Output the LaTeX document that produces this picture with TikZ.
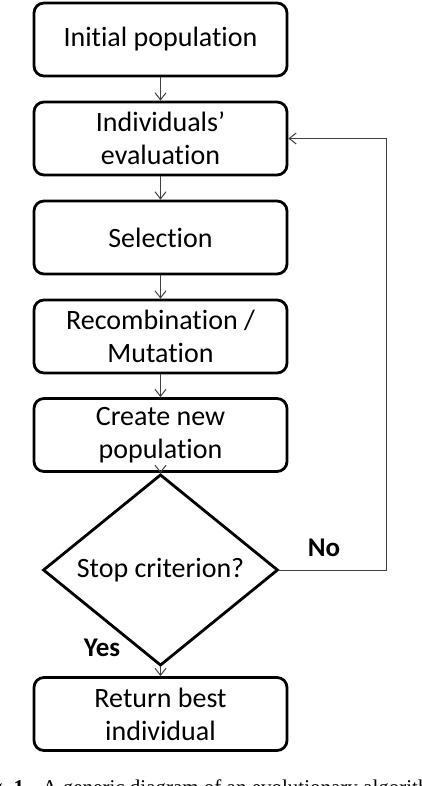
\documentclass[tikz,border=0pt]{standalone}
\usepackage{fontspec}
\setmainfont{Carlito}[Ligatures=NoCommon]
\newfontfamily\capfont{Liberation Serif}
\usepackage{tikz}
\usetikzlibrary{positioning, shapes.geometric, arrows.meta}

\tikzset{
  stepbox/.style={draw, line width=2.8pt, rounded corners=10pt, minimum width=253pt,
    minimum height=73pt, align=center, font=\fontsize{28}{33}\selectfont},
  decision/.style={draw, diamond, line width=2.8pt, minimum width=235pt,
    minimum height=144pt, inner sep=0pt, font=\fontsize{28}{33}\selectfont},
  flowarrow/.style={-{Straight Barb[length=7pt,width=11pt]}, line width=1pt, black!75},
  answer/.style={font=\bfseries\fontsize{27}{30}\selectfont},
}

\begin{document}
\begin{tikzpicture}[x=1pt, y=-1pt]
    \useasboundingbox (0,0) rectangle (422,786);

    % Steps of the loop
    \node[stepbox] (init) at (160.5,39.5) {Initial population};
    \node[stepbox] (eval) at (160.5,138.5) {Individuals’\\evaluation};
    \node[stepbox] (select) at (160.5,237.5) {Selection};
    \node[stepbox] (recomb) at (160.5,336.5) {Recombination /\\Mutation};
    \node[stepbox] (newpop) at (160.5,435) {Create new\\population};
    \node[decision] (stop) at (160.5,570) {Stop criterion?};
    \node[stepbox] (best) at (160.5,714) {Return best\\individual};

    % Downward arrows
    \draw[flowarrow] (init) -- (eval);
    \draw[flowarrow] (eval) -- (select);
    \draw[flowarrow] (select) -- (recomb);
    \draw[flowarrow] (recomb) -- (newpop);
    \draw[flowarrow] (newpop) -- (stop);
    \draw[flowarrow] (stop) -- (best);

    % Loop back
    \coordinate (turn) at (386,570);
    \draw[flowarrow] (stop.east) -- (turn) |- (eval.east);

    % Answers
    \node[answer] (no) at (324,548) {No};
    \node[answer] (yes) at (102,648) {Yes};

    % Caption, cut by the page
    \node[anchor=base west, inner sep=0pt, font=\capfont\fontsize{21}{24}\selectfont] (caption) at (-25,794)
      {Fig.\ \textbf{1.}\hspace{13pt}A generic diagram of an evolutionary algorithm.};
\end{tikzpicture}
\end{document}
